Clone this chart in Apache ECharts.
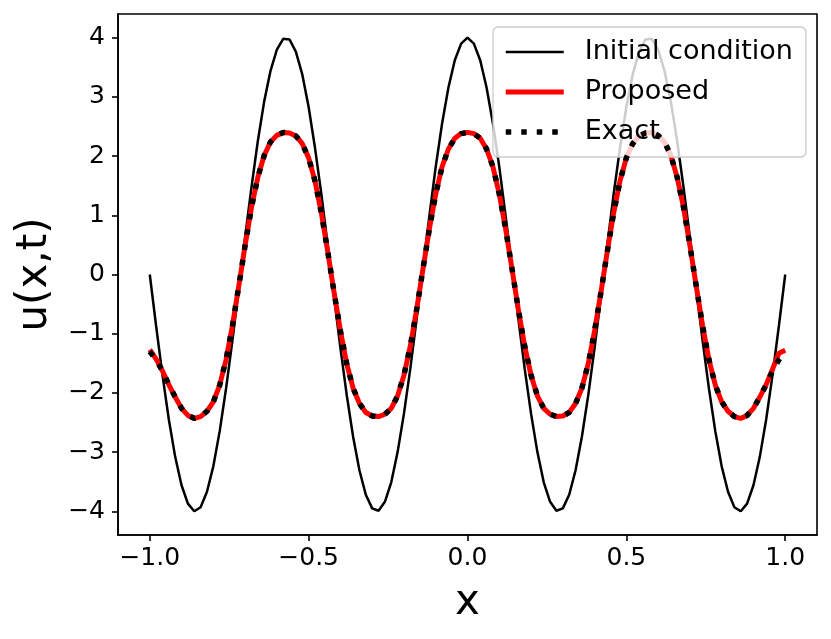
<!DOCTYPE html>
<html>
<head>
<meta charset="utf-8">
<script src="https://cdn.jsdelivr.net/npm/echarts@6/dist/echarts.min.js"></script>
<style>
  html, body { margin: 0; padding: 0; background: #fff; }
  #main { width: 831px; height: 639px; }
</style>
</head>
<body>
<div id="main"></div>
<script>
// x grid (step 0.02)
var xs = [
  -1.00, -0.98, -0.96, -0.94, -0.92, -0.90, -0.88, -0.86, -0.84, -0.82,
  -0.80, -0.78, -0.76, -0.74, -0.72, -0.70, -0.68, -0.66, -0.64, -0.62,
  -0.60, -0.58, -0.56, -0.54, -0.52, -0.50, -0.48, -0.46, -0.44, -0.42,
  -0.40, -0.38, -0.36, -0.34, -0.32, -0.30, -0.28, -0.26, -0.24, -0.22,
  -0.20, -0.18, -0.16, -0.14, -0.12, -0.10, -0.08, -0.06, -0.04, -0.02,
   0.00,
   0.02,  0.04,  0.06,  0.08,  0.10,  0.12,  0.14,  0.16,  0.18,  0.20,
   0.22,  0.24,  0.26,  0.28,  0.30,  0.32,  0.34,  0.36,  0.38,  0.40,
   0.42,  0.44,  0.46,  0.48,  0.50,  0.52,  0.54,  0.56,  0.58,  0.60,
   0.62,  0.64,  0.66,  0.68,  0.70,  0.72,  0.74,  0.76,  0.78,  0.80,
   0.82,  0.84,  0.86,  0.88,  0.90,  0.92,  0.94,  0.96,  0.98,  1.00
];

var initialVals = [
   0.00, -0.87, -1.70, -2.45, -3.08, -3.56, -3.87, -4.00, -3.93, -3.67,
  -3.24, -2.65, -1.93, -1.12, -0.25,  0.63,  1.47,  2.25,  2.92,  3.44,
   3.80,  3.98,  3.97,  3.76,  3.38,  2.83,  2.14,  1.36,  0.50, -0.38,
  -1.24, -2.04, -2.74, -3.31, -3.72, -3.95, -3.99, -3.84, -3.51, -3.00,
  -2.35, -1.59, -0.75,  0.13,  0.99,  1.82,  2.55,  3.16,  3.62,  3.90,
   4.00,
   3.90,  3.62,  3.16,  2.55,  1.82,  0.99,  0.13, -0.75, -1.59, -2.35,
  -3.00, -3.51, -3.84, -3.99, -3.95, -3.72, -3.31, -2.74, -2.04, -1.24,
  -0.38,  0.50,  1.36,  2.14,  2.83,  3.38,  3.76,  3.97,  3.98,  3.80,
   3.44,  2.92,  2.25,  1.47,  0.63, -0.25, -1.12, -1.93, -2.65, -3.24,
  -3.67, -3.93, -4.00, -3.87, -3.56, -3.08, -2.45, -1.70, -0.87,  0.00
];

var proposedVals = [
  -1.27, -1.43, -1.63, -1.86, -2.07, -2.26, -2.38, -2.43, -2.40, -2.31,
  -2.15, -1.87, -1.44, -0.87, -0.20,  0.49,  1.13,  1.64,  2.01,  2.24,
   2.35,  2.40,  2.39,  2.34,  2.21,  1.97,  1.58,  1.04,  0.39, -0.30,
  -0.95, -1.51, -1.92, -2.18, -2.33, -2.39, -2.40, -2.36, -2.26, -2.05,
  -1.70, -1.21, -0.59,  0.10,  0.77,  1.36,  1.82,  2.12,  2.30,  2.38,
   2.40,
   2.38,  2.30,  2.12,  1.82,  1.36,  0.77,  0.10, -0.59, -1.21, -1.70,
  -2.05, -2.26, -2.36, -2.40, -2.39, -2.33, -2.18, -1.92, -1.51, -0.95,
  -0.30,  0.39,  1.04,  1.58,  1.97,  2.21,  2.34,  2.39,  2.40,  2.35,
   2.24,  2.01,  1.64,  1.13,  0.49, -0.20, -0.87, -1.44, -1.87, -2.15,
  -2.31, -2.40, -2.43, -2.38, -2.26, -2.07, -1.86, -1.60, -1.33, -1.28
];

var exactVals = [
  -1.30, -1.44, -1.63, -1.86, -2.07, -2.26, -2.38, -2.43, -2.40, -2.31,
  -2.15, -1.87, -1.44, -0.87, -0.20,  0.49,  1.13,  1.64,  2.01,  2.24,
   2.35,  2.40,  2.39,  2.34,  2.21,  1.97,  1.58,  1.04,  0.39, -0.30,
  -0.95, -1.51, -1.92, -2.18, -2.33, -2.39, -2.40, -2.36, -2.26, -2.05,
  -1.70, -1.21, -0.59,  0.10,  0.77,  1.36,  1.82,  2.12,  2.30,  2.38,
   2.40,
   2.38,  2.30,  2.12,  1.82,  1.36,  0.77,  0.10, -0.59, -1.21, -1.70,
  -2.05, -2.26, -2.36, -2.40, -2.39, -2.33, -2.18, -1.92, -1.51, -0.95,
  -0.30,  0.39,  1.04,  1.58,  1.97,  2.21,  2.34,  2.39,  2.40,  2.35,
   2.24,  2.01,  1.64,  1.13,  0.49, -0.20, -0.87, -1.44, -1.87, -2.15,
  -2.31, -2.40, -2.43, -2.38, -2.26, -2.07, -1.86, -1.63, -1.44, -1.30
];

var xTicks = [-1.0, -0.5, 0.0, 0.5, 1.0];
var yTicks = [-4, -3, -2, -1, 0, 1, 2, 3, 4];
var seriesNames = ['Initial condition', 'Proposed', 'Exact'];

var FONT = 'DejaVu Sans';

function pairs(ys) {
  var out = [];
  for (var i = 0; i < xs.length; i++) out.push([xs[i], ys[i]]);
  return out;
}

// matplotlib style minus sign
function fmt(v, digits) {
  var s = Math.abs(v).toFixed(digits);
  return (v < 0 ? '\u2212' : '') + s;
}

var chart = echarts.init(document.getElementById('main'));

var lineInit = { color: '#000000', width: 2.5, type: 'solid' };
var lineProp = { color: '#ff0000', width: 5, type: 'solid' };
var lineExact = { color: '#000000', width: 5.5, type: [5.5, 10], cap: 'butt' };

var option = {
  animation: false,
  backgroundColor: '#ffffff',
  grid: {
    left: 118, right: 14, top: 14, bottom: 104,
    show: true, borderColor: '#000', borderWidth: 1.6,
    backgroundColor: 'transparent'
  },
  legend: {
    orient: 'vertical',
    left: 493, top: 27,
    padding: [11, 13, 11, 10],
    itemWidth: 58, itemHeight: 14, itemGap: 12,
    backgroundColor: 'rgba(255,255,255,0.8)',
    borderColor: '#cccccc', borderWidth: 1.3, borderRadius: 5,
    textStyle: {
      fontFamily: FONT, fontSize: 27, color: '#000',
      lineHeight: 28, padding: [0, 0, 0, 16]
    },
    data: [
      { name: seriesNames[0], lineStyle: lineInit, itemStyle: { opacity: 0 } },
      { name: seriesNames[1], lineStyle: lineProp, itemStyle: { opacity: 0 } },
      { name: seriesNames[2], lineStyle: lineExact, itemStyle: { opacity: 0 } }
    ]
  },
  xAxis: {
    type: 'value', min: -1.1, max: 1.1,
    name: 'x', nameLocation: 'middle', nameGap: 47,
    nameTextStyle: { fontFamily: FONT, fontSize: 42, color: '#000' },
    axisLine: { show: true, onZero: false, lineStyle: { color: '#000', width: 1.6 } },
    axisTick: { show: true, inside: false, length: 6, customValues: xTicks,
                lineStyle: { color: '#000', width: 1.6 } },
    axisLabel: { customValues: xTicks, margin: 11, color: '#000',
                 fontFamily: FONT, fontSize: 25,
                 formatter: function (v) { return fmt(v, 1); } },
    splitLine: { show: false }
  },
  yAxis: {
    type: 'value', min: -4.4, max: 4.4,
    name: 'u(x,t)', nameLocation: 'middle', nameGap: 62, nameRotate: 90,
    nameTextStyle: { fontFamily: FONT, fontSize: 42, color: '#000' },
    axisLine: { show: true, onZero: false, lineStyle: { color: '#000', width: 1.6 } },
    axisTick: { show: true, inside: false, length: 6, customValues: yTicks,
                lineStyle: { color: '#000', width: 1.6 } },
    axisLabel: { customValues: yTicks, margin: 13, color: '#000',
                 fontFamily: FONT, fontSize: 25,
                 formatter: function (v) { return fmt(v, 0); } },
    splitLine: { show: false }
  },
  series: [
    { name: seriesNames[0], type: 'line', data: pairs(initialVals),
      symbol: 'none', lineStyle: lineInit, itemStyle: { color: '#000' }, z: 2 },
    { name: seriesNames[1], type: 'line', data: pairs(proposedVals),
      symbol: 'none', lineStyle: lineProp, itemStyle: { color: '#ff0000' }, z: 3 },
    { name: seriesNames[2], type: 'line', data: pairs(exactVals),
      symbol: 'none', lineStyle: lineExact, itemStyle: { color: '#000' }, z: 4 }
  ]
};

chart.setOption(option);
</script>
</body>
</html>
